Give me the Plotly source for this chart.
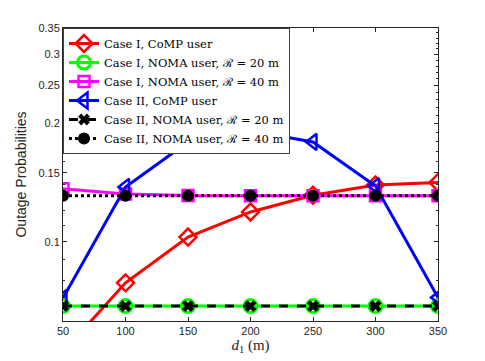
import plotly.graph_objects as go

# distance d1 (m)
d1 = [50, 100, 150, 200, 250, 300, 350]

# outage probabilities
case1_comp = [0.0525, 0.0787, 0.1029, 0.1192, 0.1315, 0.1396, 0.1416]
case1_noma_20 = [0.0687, 0.0687, 0.0687, 0.0687, 0.0687, 0.0687, 0.0687]
case1_noma_40 = [0.1365, 0.1325, 0.1312, 0.1311, 0.1311, 0.1311, 0.1311]
case2_comp = [0.0720, 0.1380, 0.1796, 0.1916, 0.1796, 0.1387, 0.0722]
case2_noma_20 = [0.0687, 0.0687, 0.0687, 0.0687, 0.0687, 0.0687, 0.0687]
case2_noma_40 = [0.1311, 0.1311, 0.1311, 0.1311, 0.1311, 0.1311, 0.1311]

y_ticks = [0.1, 0.15, 0.2, 0.25, 0.3, 0.35]
y_minor = [round(0.06 + 0.01 * i, 2) for i in range(30)]

fig = go.Figure()


def add_series(y, name, color, symbol, dash="solid", msize=12, mline=2.5):
    fig.add_trace(go.Scatter(
        x=d1, y=y, name=name, mode="lines+markers",
        line=dict(color=color, width=3, dash=dash),
        marker=dict(symbol=symbol, size=msize, color=color,
                    line=dict(color=color, width=mline)),
    ))


add_series(case1_comp, "Case I, CoMP user", "#ff0000", "diamond-open", msize=13)
add_series(case1_noma_20, "Case I, NOMA user, ℛ = 20 m", "#00ff00", "circle-open", msize=13, mline=3)
add_series(case1_noma_40, "Case I, NOMA user, ℛ = 40 m", "#ff00ff", "square-open", msize=11)
add_series(case2_comp, "Case II, CoMP user", "#0000ff", "triangle-left-open", msize=14)
add_series(case2_noma_20, "Case II, NOMA user, ℛ = 20 m", "#000000", "x", dash="dash",
           msize=10, mline=0.5)
add_series(case2_noma_40, "Case II, NOMA user, ℛ = 40 m", "#000000", "circle", dash="dot",
           msize=12, mline=0)

axis_common = dict(
    showline=True, linecolor="#262626", linewidth=1, mirror="ticks",
    ticks="inside", ticklen=4, tickcolor="#262626", showgrid=False, zeroline=False,
    automargin=False,
    tickfont=dict(family="Liberation Sans, Arial", size=11, color="#262626"),
)

fig.update_xaxes(
    range=[50, 350], tickvals=[50, 100, 150, 200, 250, 300, 350],
    title=dict(text="<i>d</i><sub>1</sub> (m)", standoff=2,
               font=dict(family="Liberation Serif, DejaVu Serif", size=15, color="#262626")),
    **axis_common,
)
fig.update_yaxes(
    type="log", range=[-1.201, -0.456], tickvals=y_ticks,
    ticktext=["0.1", "0.15", "0.2", "0.25", "0.3", "0.35"],
    minor=dict(tickvals=y_minor, ticks="inside", ticklen=2, tickcolor="#262626"),
    title=dict(text="Outage Probabilities", standoff=8,
               font=dict(family="Liberation Sans, Arial", size=14, color="#262626")),
    **axis_common,
)

# page body adds an 8px offset, so the figure is made 8px smaller
fig.update_layout(
    width=477, height=353,
    margin=dict(l=55, r=47, t=20, b=40),
    paper_bgcolor="white", plot_bgcolor="white",
    legend=dict(
        x=0, y=1, xanchor="left", yanchor="top",
        bgcolor="white", bordercolor="#404040", borderwidth=1,
        font=dict(family="DejaVu Serif, Liberation Serif", size=11.5, color="black"),
        tracegroupgap=0, itemwidth=30,
    ),
)

fig.write_html("out.html")
